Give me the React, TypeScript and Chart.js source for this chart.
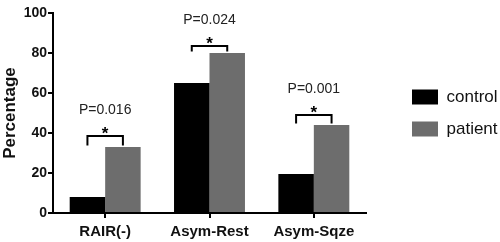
import React, { useEffect, useRef } from "react";
import { Chart, registerables } from "chart.js";

Chart.register(...registerables);

const categories = ["RAIR(-)", "Asym-Rest", "Asym-Sqze"];
const controlValues = [8, 65, 19.5];
const patientValues = [33, 80, 44];
const pValueLabels = ["P=0.016", "P=0.024", "P=0.001"];
const bracketLevels = [38.5, 83.5, 49];
const yTickStep = 20;

const FONT = "Arial, 'Liberation Sans', Helvetica, sans-serif";

const significancePlugin = {
  id: "significance",
  afterDatasetsDraw(chart: any) {
    const { ctx } = chart;
    const yScale = chart.scales.y;
    const m0 = chart.getDatasetMeta(0);
    const m1 = chart.getDatasetMeta(1);
    ctx.save();
    for (let i = 0; i < categories.length; i++) {
      const x0 = m0.data[i].x;
      const x1 = m1.data[i].x;
      const yb = yScale.getPixelForValue(bracketLevels[i]);
      const yEnd = Math.min(m0.data[i].y, m1.data[i].y) - 1.5;
      ctx.strokeStyle = "#000";
      ctx.lineWidth = 2;
      ctx.beginPath();
      ctx.moveTo(x0, yEnd);
      ctx.lineTo(x0, yb);
      ctx.lineTo(x1, yb);
      ctx.lineTo(x1, yEnd);
      ctx.stroke();
      const cx = (x0 + x1) / 2;
      ctx.fillStyle = "#000";
      ctx.textAlign = "center";
      ctx.textBaseline = "alphabetic";
      ctx.font = `bold 17px ${FONT}`;
      ctx.fillText("*", cx, yb - 7 + 9.5);
      ctx.fillStyle = "#222";
      ctx.textBaseline = "middle";
      ctx.font = `14px ${FONT}`;
      ctx.fillText(pValueLabels[i], cx, yb - 26);
    }
    ctx.restore();
  },
};

export default function App() {
  const ref = useRef<HTMLCanvasElement | null>(null);
  useEffect(() => {
    if (!ref.current) return;
    const chart = new Chart(ref.current, {
      type: "bar",
      data: {
        labels: categories,
        datasets: [
          {
            label: "control",
            data: controlValues,
            backgroundColor: "#000000",
            borderWidth: 0,
            categoryPercentage: 0.68,
            barPercentage: 1.0,
          },
          {
            label: "patient",
            data: patientValues,
            backgroundColor: "#6d6d6d",
            borderWidth: 0,
            categoryPercentage: 0.68,
            barPercentage: 1.0,
          },
        ],
      },
      options: {
        animation: false,
        responsive: false,
        layout: { padding: { top: 13, bottom: 0, left: 0, right: 0 } },
        plugins: {
          tooltip: { enabled: false },
          legend: {
            position: "right",
            fullSize: false,
            maxWidth: 103,
            labels: {
              boxWidth: 26,
              boxHeight: 15,
              padding: 15,
              color: "#111",
              font: { family: FONT, size: 17 },
            },
          },
        },
        scales: {
          x: {
            afterFit: (s: any) => {
              s.height = 29;
            },
            grid: {
              display: true,
              drawOnChartArea: false,
              offset: false,
              tickLength: 5,
              color: "#000",
              lineWidth: 2,
            },
            border: { display: true, color: "#000", width: 2 },
            ticks: {
              color: "#111",
              padding: 5,
              font: { family: FONT, size: 15, weight: "bold" },
            },
          },
          y: {
            min: 0,
            max: 100,
            afterFit: (s: any) => {
              s.width = 53;
            },
            grid: {
              display: true,
              drawOnChartArea: false,
              tickLength: 5,
              color: "#000",
              lineWidth: 2,
            },
            border: { display: true, color: "#000", width: 2 },
            ticks: {
              stepSize: yTickStep,
              color: "#111",
              padding: 1,
              font: { family: FONT, size: 14, weight: "bold" },
            },
            title: {
              display: true,
              text: "Percentage",
              color: "#111",
              padding: { top: 0, bottom: 0 },
              font: { family: FONT, size: 17, weight: "bold" },
            },
          },
          spacer: {
            type: "linear",
            position: "right",
            display: true,
            afterFit: (s: any) => {
              s.width = 31;
            },
            grid: { display: false },
            border: { display: false },
            ticks: { display: false },
          },
        },
      } as any,
      plugins: [significancePlugin],
    });
    return () => chart.destroy();
  }, []);
  return (
    <div style={{ position: "absolute", left: 0, top: 0, width: 500, height: 242, background: "#fff" }}>
      <canvas ref={ref} width={500} height={242} style={{ display: "block" }} />
    </div>
  );
}
